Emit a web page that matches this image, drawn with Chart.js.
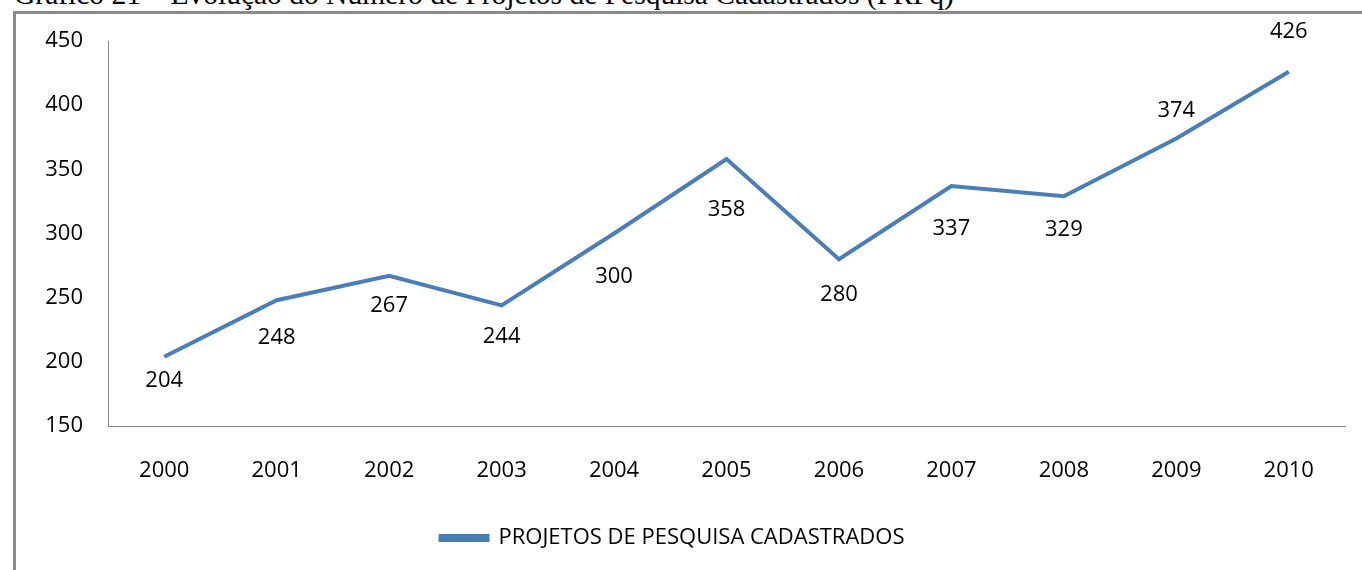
<!DOCTYPE html>
<html>
<head>
<meta charset="utf-8">
<script src="https://cdn.jsdelivr.net/npm/chart.js@4/dist/chart.umd.min.js"></script>
<style>
  html, body { margin: 0; padding: 0; background: #fff; }
  #page { position: relative; width: 1362px; height: 570px; overflow: hidden; }
  #caption {
    position: absolute; left: 14px; top: -20px;
    font-family: "Liberation Serif", serif; font-size: 29.5px; line-height: 1; color: #000;
    white-space: nowrap;
  }
  #frame {
    position: absolute; left: 13px; top: 11px; width: 1400px; height: 600px;
    border-left: 3px solid #8a8a8a; border-top: 3px solid #8a8a8a;
  }
  #wrap { position: absolute; left: 0; top: 0; width: 1362px; height: 570px; }
</style>
</head>
<body>
<div id="page">
  <div id="caption">Gráfico 21 – Evolução do Número de Projetos de Pesquisa Cadastrados (PRPq)</div>
  <div id="frame"></div>
  <div id="wrap"><canvas id="chart"></canvas></div>
</div>
<script>
// ---------- Data ---------- //
const years = ['2000', '2001', '2002', '2003', '2004', '2005', '2006', '2007', '2008', '2009', '2010'];
const projetos = [204, 248, 267, 244, 300, 358, 280, 337, 329, 374, 426];
const seriesName = 'PROJETOS DE PESQUISA CADASTRADOS';
// vertical shift of each value label relative to its point (px)
const labelOffsets = [24, 38, 30, 31, 43, 51, 36, 43, 33, -28, -40];

const FONT = '"Open Sans", sans-serif';
const FONT_SIZE = 22;
const BLUE = '#4a7ebb';

// draws the value labels under / over the points
const valueLabels = {
  id: 'valueLabels',
  afterDatasetsDraw(chart) {
    const ctx = chart.ctx;
    const meta = chart.getDatasetMeta(0);
    ctx.save();
    ctx.font = FONT_SIZE + 'px ' + FONT;
    ctx.fillStyle = '#000';
    ctx.textAlign = 'center';
    ctx.textBaseline = 'middle';
    meta.data.forEach((pt, i) => {
      ctx.fillText(String(projetos[i]), pt.x, pt.y + labelOffsets[i]);
    });
    ctx.restore();
  }
};

new Chart(document.getElementById('chart'), {
  type: 'line',
  data: {
    labels: years,
    datasets: [{
      label: seriesName,
      data: projetos,
      borderColor: BLUE,
      backgroundColor: BLUE,
      borderWidth: 4,
      pointRadius: 0,
      tension: 0
    }]
  },
  options: {
    responsive: true,
    maintainAspectRatio: false,
    animation: false,
    layout: { padding: { left: 0, top: 41, right: 17, bottom: 11 } },
    plugins: {
      legend: {
        position: 'bottom',
        labels: {
          boxWidth: 47,
          boxHeight: 4,
          padding: 10,
          color: '#000',
          font: { family: FONT, size: FONT_SIZE }
        }
      },
      tooltip: { enabled: false }
    },
    scales: {
      x: {
        offset: true,
        grid: { display: false, drawTicks: false },
        border: { display: true, color: '#868686', width: 1 },
        ticks: { color: '#000', padding: 32, font: { family: FONT, size: FONT_SIZE } },
        afterFit: (scale) => { scale.height = 91; }
      },
      y: {
        min: 150,
        max: 450,
        grid: { display: false, drawTicks: false },
        border: { display: true, color: '#868686', width: 1 },
        ticks: { stepSize: 50, color: '#000', padding: 25, font: { family: FONT, size: FONT_SIZE } },
        afterFit: (scale) => { scale.width = 108; }
      }
    }
  },
  plugins: [valueLabels]
});
</script>
</body>
</html>
